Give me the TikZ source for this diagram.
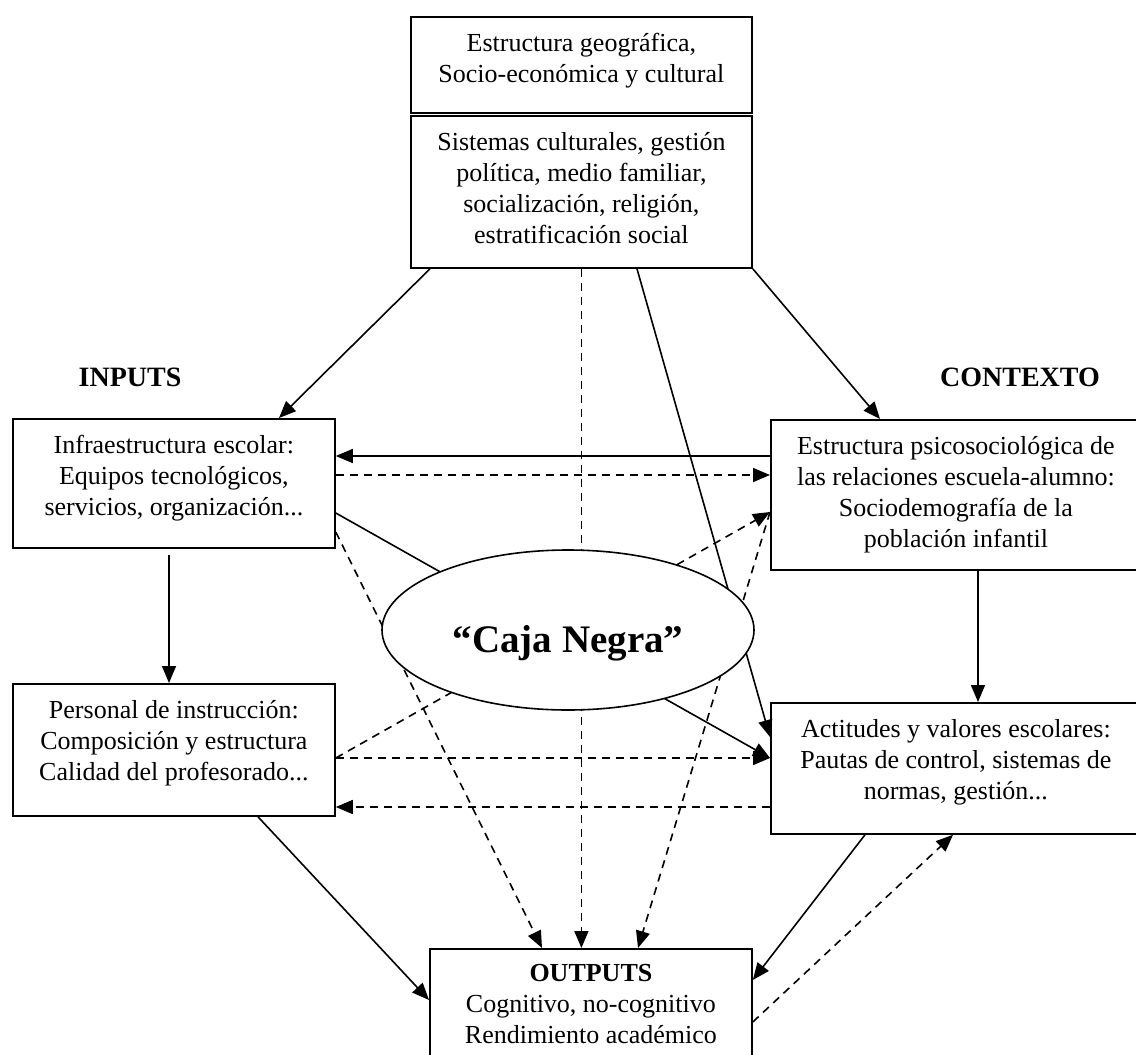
\documentclass[tikz,border=0pt]{standalone}
\usepackage{fontspec}
\setmainfont{Liberation Serif}
\usetikzlibrary{shapes.geometric,arrows.meta}

\begin{document}
\begin{tikzpicture}[
  x=0.5pt, y=-0.5pt,
  >={Triangle[length=8.5pt,width=7pt]},
  font=\fontsize{13}{15.5}\selectfont,
  box/.style={
    rectangle,
    draw,
    line width=0.9pt,
    align=center,
    inner xsep=0pt,
    inner ysep=0pt,
    anchor=north west
  },
  blackbox/.style={
    ellipse,
    draw,
    line width=0.8pt,
    fill=white,
    inner sep=0pt,
    minimum width=186pt,
    minimum height=80pt,
    text height=22.8pt,
    text depth=0pt,
    font=\fontsize{19.5}{22}\selectfont\bfseries
  },
  heading/.style={
    font=\fontsize{14}{16}\selectfont\bfseries
  },
  link/.style={->, line width=0.8pt},
  dlink/.style={->, line width=0.8pt, dash pattern=on 4pt off 3pt}
  ]
  \useasboundingbox (0,0) rectangle (1136,1055);
  % context on top
  \node [box, minimum width=170.5pt, text height=33pt, text depth=15pt] (geo) at (410,16)
    {Estructura geográfica,\\ Socio-económica y cultural};
  \node [box, minimum width=170.5pt, text height=64pt, text depth=12pt] (soc) at (410,115)
    {Sistemas culturales, gestión\\ política, medio familiar,\\ socialización, religión,\\ estratificación social};
  % headings
  \node [heading] (inputs) at (130,377) {INPUTS};
  \node [heading] (contexto) at (1020,377) {CONTEXTO};
  % left column
  \node [box, minimum width=161pt, text height=48.5pt, text depth=16pt] (infra) at (12,418)
    {Infraestructura escolar:\\ Equipos tecnológicos,\\ servicios, organización...};
  \node [box, minimum width=161pt, text height=48.5pt, text depth=17.5pt] (pers) at (12,683)
    {Personal de instrucción:\\ Composición y estructura\\ Calidad del profesorado...};
  % right column
  \node [box, minimum width=185pt, text height=64pt, text depth=11pt] (estr) at (770,419)
    {Estructura psicosociológica de\\ las relaciones escuela-alumno:\\ Sociodemografía de la\\ población infantil};
  \node [box, minimum width=185pt, text height=48.5pt, text depth=17pt] (acti) at (770,702)
    {Actitudes y valores escolares:\\ Pautas de control, sistemas de\\ normas, gestión...};
  % bottom
  \node [box, minimum width=161pt, text height=47.5pt, text depth=9.5pt] (out) at (429,948)
    {\textbf{OUTPUTS}\\ Cognitivo, no-cognitivo\\ Rendimiento académico};
  % from the top block
  \draw [link] ([xshift=10pt]soc.south west) -- (infra.north -| 279,0);
  \draw [link] (soc.south east) -- (estr.north -| 880,0);
  \draw [link] (soc.south -| 637,0) -- (acti.west |- 0,737);
  \draw [dlink] (soc.south) -- (out.north -| soc.south);
  % between inputs and context
  \draw [link] (estr.west |- 0,456) -- (infra.east |- 0,456);
  \draw [dlink] (infra.east |- 0,475) -- (estr.west |- 0,475);
  \draw [link] (infra.east |- 0,513) -- (acti.west |- 0,758);
  \draw [dlink] (pers.east |- 0,758) -- (acti.west |- 0,758);
  \draw [dlink] (pers.east |- 0,758) -- (estr.west |- 0,512);
  \draw [dlink] (acti.west |- 0,807) -- (pers.east |- 0,807);
  % towards the outputs
  \draw [dlink] (infra.east |- 0,532) -- (out.north -| 542,0);
  \draw [dlink] (estr.west |- 0,512) -- (out.north -| 638,0);
  \draw [link] (pers.south -| 258,0) -- (out.west |- 0,1000);
  \draw [link] (acti.south -| 865,0) -- (out.east |- 0,980);
  \draw [dlink] (out.east |- 0,1022) -- (acti.south -| 953,0);
  % inside each column
  \draw [link] ([yshift=-3pt]infra.south -| 169,0) -- (pers.north -| 169,0);
  \draw [link] (estr.south -| 978,0) -- (acti.north -| 978,0);
  % black box on top of the links
  \node [blackbox] (caja) at (568,630) {“Caja Negra”};
\end{tikzpicture}
\end{document}
